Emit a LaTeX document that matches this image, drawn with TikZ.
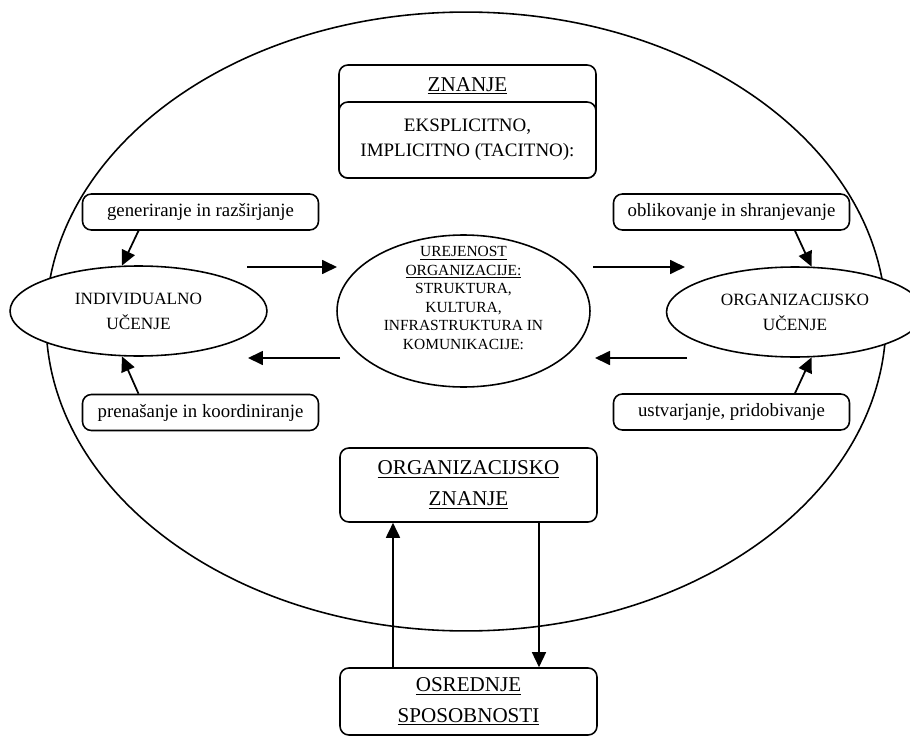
\documentclass[tikz,border=0pt]{standalone}
\usepackage{fontspec}
\setmainfont{Liberation Serif}
\usetikzlibrary{positioning, arrows.meta, shapes.geometric, calc}

\begin{document}
\begin{tikzpicture}[
    x=0.02cm, y=-0.02cm,
    % Rounded box style
    box/.style={
        rectangle,
        rounded corners=5pt,
        draw=black,
        line width=0.9pt,
        fill=white,
        align=center
    },
    % Small process box
    procbox/.style={
        box,
        minimum width=4.72cm,
        minimum height=0.72cm,
        font=\fontsize{10.7}{13}\selectfont
    },
    % Heading box
    headbox/.style={
        box,
        minimum width=5.14cm,
        font=\fontsize{12}{17.5}\selectfont
    },
    % Learning ellipse style
    learn/.style={
        ellipse,
        draw=black,
        line width=0.9pt,
        fill=white,
        minimum width=5.14cm,
        minimum height=1.8cm,
        align=center,
        font=\fontsize{9.8}{14.2}\selectfont
    },
    % Arrow style
    arrow/.style={
        -{Triangle[length=0.3cm, width=0.28cm]},
        line width=1pt
    }
]

\useasboundingbox (0,0) rectangle (910,737);

% === Outer ellipse ===
\node[ellipse, draw, line width=0.9pt, minimum width=16.8cm, minimum height=12.38cm] (okvir) at (466,321.5) {};

% === Knowledge box (top) ===
\node[headbox, minimum height=2.26cm] (znanje) at (467.5,121.5) {};
\node[font=\fontsize{12}{17.5}\selectfont] (znanjenaslov) at (467.5,86) {\underline{ZNANJE}};
\node[box, minimum width=5.14cm, minimum height=1.52cm, font=\fontsize{10.8}{14.2}\selectfont]
    (vrste) at (467.5,140) {EKSPLICITNO,\\IMPLICITNO (TACITNO):};

% === Process boxes ===
\node[procbox] (gen) at (200.5,212) {generiranje in razširjanje};
\node[procbox] (pren) at (200.5,412.5) {prenašanje in koordiniranje};
\node[procbox] (obl) at (731.5,212) {oblikovanje in shranjevanje};
\node[procbox] (ustv) at (731.5,412) {ustvarjanje, pridobivanje};

% === Learning ellipses ===
\node[learn] (indiv) at (138.5,311) {INDIVIDUALNO\\UČENJE};
\node[learn] (orgu) at (795,312) {ORGANIZACIJSKO\\UČENJE};

% === Centre ellipse ===
\node[ellipse, draw, line width=0.9pt, minimum width=5.06cm, minimum height=3.04cm] (ure) at (463.5,311) {};
\node[align=center, font=\fontsize{8.8}{10.6}\selectfont] (uretxt) at (463.5,298)
    {\underline{UREJENOST}\\\underline{ORGANIZACIJE:}\\STRUKTURA,\\KULTURA,\\INFRASTRUKTURA IN\\KOMUNIKACIJE:};

% === Bottom boxes ===
\node[headbox, minimum height=1.48cm] (oz) at (468.5,485) {\underline{ORGANIZACIJSKO}\\\underline{ZNANJE}};
\node[headbox, minimum height=1.34cm] (osr) at (468.5,701.5) {\underline{OSREDNJE}\\\underline{SPOSOBNOSTI}};

% === Arrow ends between ellipses ===
\coordinate (l1) at (247,267);
\coordinate (l2) at (337,267);
\coordinate (l3) at (340,358);
\coordinate (l4) at (248,358);
\coordinate (r1) at (593,267);
\coordinate (r2) at (685,267);
\coordinate (r3) at (687,358);
\coordinate (r4) at (595,358);

% === Arrows ===
\draw[arrow] (gen.south -| indiv.center) -- (indiv.110);
\draw[arrow] (pren.north -| indiv.center) -- (indiv.-110);
\draw[arrow] (obl.south -| orgu.center) -- (orgu.70);
\draw[arrow] (ustv.north -| orgu.center) -- (orgu.-70);

\draw[arrow] (l1) -- (l2);
\draw[arrow] (l3) -- (l4);
\draw[arrow] (r1) -- (r2);
\draw[arrow] (r3) -- (r4);

\draw[arrow] ($(osr.north)+(-75.5,0)$) -- ($(oz.south)+(-75.5,0)$);
\draw[arrow, line width=0.8pt] ($(oz.south)+(70.5,0)$) -- ($(osr.north)+(70.5,0)$);

\end{tikzpicture}
\end{document}
